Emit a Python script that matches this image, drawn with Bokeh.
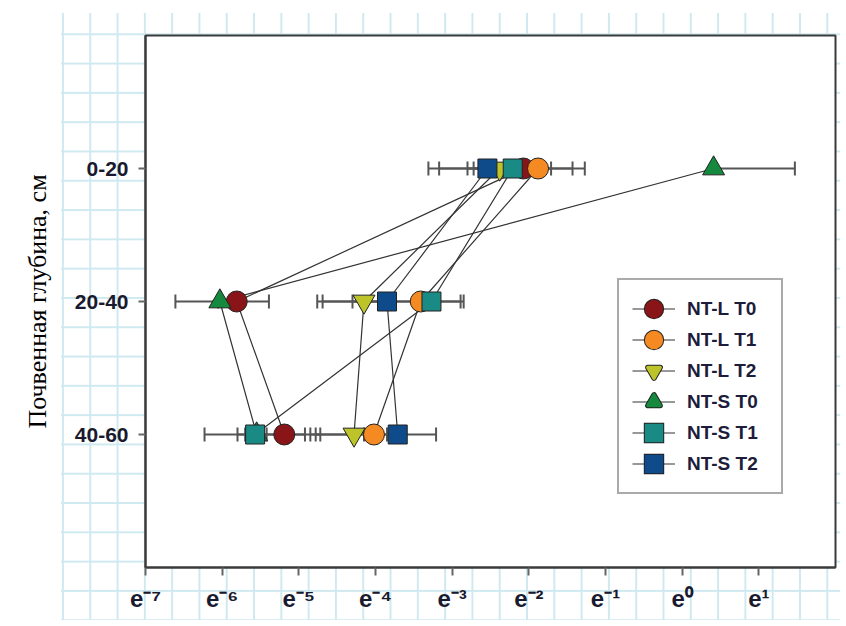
import math
from bokeh.plotting import figure
from bokeh.models import Legend, LegendItem, FixedTicker, ColumnDataSource, Title
from bokeh.embed import file_html
from bokeh.resources import INLINE

nan = float("nan")

# Depth categories (rows) and their positions
depth_labels = ["0-20", "20-40", "40-60"]
depth_pos = [1, 2, 3]

# X tick exponents (axis shows e^k)
x_exponents = [-7, -6, -5, -4, -3, -2, -1, 0, 1]

series_names = ["NT-L T0", "NT-L T1", "NT-L T2", "NT-S T0", "NT-S T1", "NT-S T2"]

# Values as natural-log (exponent of e); lo/hi = error bar ends
nt_l_t0 = [-2.07, -5.81, -5.19]
nt_l_t0_lo = [-3.17, -6.05, -5.80]
nt_l_t0_hi = [-1.27, -5.39, -4.72]

nt_l_t1 = [-1.88, -3.41, -4.02]
nt_l_t1_lo = [-2.72, -4.30, -4.78]
nt_l_t1_hi = [-1.43, -3.20, -3.85]

nt_l_t2 = [-2.38, -4.15, -4.28]
nt_l_t2_lo = [-2.80, -4.76, -4.85]
nt_l_t2_hi = [-2.10, -3.95, -4.15]

nt_s_t0 = [0.41, -6.03, -5.55]
nt_s_t0_lo = [nan, -6.61, -5.70]
nt_s_t0_hi = [1.47, -5.75, -5.42]

nt_s_t1 = [-2.21, -3.27, -5.57]
nt_s_t1_lo = [-2.60, -3.50, -6.23]
nt_s_t1_hi = [-1.71, -2.85, -4.92]

nt_s_t2 = [-2.54, -3.85, -3.71]
nt_s_t2_lo = [-3.31, -4.69, -4.05]
nt_s_t2_hi = [-2.20, -2.89, -3.21]

vals = [nt_l_t0, nt_l_t1, nt_l_t2, nt_s_t0, nt_s_t1, nt_s_t2]
los = [nt_l_t0_lo, nt_l_t1_lo, nt_l_t2_lo, nt_s_t0_lo, nt_s_t1_lo, nt_s_t2_lo]
his = [nt_l_t0_hi, nt_l_t1_hi, nt_l_t2_hi, nt_s_t0_hi, nt_s_t1_hi, nt_s_t2_hi]

colors = ["#8a1518", "#f58a22", "#bcc42a", "#15893d", "#1a8a85", "#0f4a8a"]
markers = ["circle", "circle", "inverted_triangle", "triangle", "square", "square"]
sizes = [21, 21, 22, 22, 19, 19]

SUP = {"-": "\u207b", "0": "\u2070", "1": "\u00b9", "2": "\u00b2", "3": "\u00b3",
       "4": "\u2074", "5": "\u2075", "6": "\u2076", "7": "\u2077", "8": "\u2078", "9": "\u2079"}

def sup(k):
    return "".join(SUP[c] for c in str(k))

grid_c = "#cfe9f1"
p = figure(width=840, height=620, output_backend="svg", toolbar_location=None,
           x_range=(-7, 2), y_range=(4, 0),
           min_border_left=145, min_border_right=5, min_border_top=35, min_border_bottom=53,
           background_fill_color="white", border_fill_color=None)
p.styles = {
    "background-image": (
        "linear-gradient(to right, white 0px, white 61px, transparent 61px),"
        "linear-gradient(to bottom, white 0px, white 13px, transparent 13px),"
        f"linear-gradient(to right, {grid_c} 0px, {grid_c} 2px, transparent 2px),"
        f"linear-gradient(to bottom, {grid_c} 0px, {grid_c} 2px, transparent 2px)"
    ),
    "background-size": "100% 100%, 100% 100%, 27.3px 29.3px, 27.3px 29.3px",
    "background-repeat": "no-repeat, no-repeat, repeat, repeat",
    "background-position": "0 0, 0 0, 7.4px 0px, 0px 4px",
}

p.xgrid.visible = False
p.ygrid.visible = False
p.outline_line_color = "#3a3a3a"
p.outline_line_width = 2

xa = p.xaxis[0]
xa.ticker = FixedTicker(ticks=x_exponents)
xa.major_label_overrides = {k: "e" + sup(k) for k in x_exponents}
xa.minor_tick_line_color = None
xa.axis_line_color = "#3a3a3a"
xa.axis_line_width = 2
xa.major_tick_line_color = "#666666"
xa.major_tick_line_width = 2
xa.major_tick_out = 8
xa.major_tick_in = 0
xa.major_label_standoff = 9
xa.major_label_text_font = "Liberation Sans"
xa.major_label_text_font_style = "bold"
xa.major_label_text_font_size = "24px"
xa.major_label_text_color = "#1a1a2e"

ya = p.yaxis[0]
ya.ticker = FixedTicker(ticks=depth_pos)
ya.major_label_overrides = {k: lab for k, lab in zip(depth_pos, depth_labels)}
ya.minor_tick_line_color = None
ya.axis_line_color = "#3a3a3a"
ya.axis_line_width = 2
ya.major_tick_line_color = "#666666"
ya.major_tick_line_width = 2
ya.major_tick_out = 7
ya.major_tick_in = 0
ya.major_label_standoff = 10
ya.major_label_text_font = "Liberation Sans"
ya.major_label_text_font_style = "bold"
ya.major_label_text_font_size = "21px"
ya.major_label_text_color = "#1a1a2e"

line_rs = []
for v in vals:
    r = p.line(x=v, y=depth_pos, line_color="#333333", line_width=1.2)
    line_rs.append(r)

for v, lo, hi in zip(vals, los, his):
    src = ColumnDataSource(dict(v=v, lo=lo, hi=hi, y=depth_pos))
    p.segment(x0="v", y0="y", x1="lo", y1="y", source=src, line_color="#555555", line_width=2)
    p.segment(x0="v", y0="y", x1="hi", y1="y", source=src, line_color="#555555", line_width=2)
    p.scatter(x="lo", y="y", source=src, marker="dash", angle=math.pi / 2, size=14,
              line_color="#555555", line_width=2)
    p.scatter(x="hi", y="y", source=src, marker="dash", angle=math.pi / 2, size=14,
              line_color="#555555", line_width=2)

items = []
for name, v, c, m, s, lr in zip(series_names, vals, colors, markers, sizes, line_rs):
    p.scatter(x=v, y=depth_pos, marker=m, size=s, fill_color=c,
              line_color="#222222", line_width=1)
    # legend-only swatches (no visible points) so the legend markers are full size
    tri = "triangle" in m
    ring = p.scatter(x=[nan], y=[nan], marker=m, size=s, fill_color="#222222",
                     line_color="#222222", line_width=5.4 if tri else 8,
                     line_join="round" if tri else "miter")
    face = p.scatter(x=[nan], y=[nan], marker=m, size=s, fill_color=c,
                     line_color=c, line_width=3.4 if tri else 6,
                     line_join="round" if tri else "miter")
    items.append(LegendItem(label=name, renderers=[lr, ring, face]))

legend = Legend(items=items, location=(472, 73), padding=13, spacing=0,
                glyph_width=43, glyph_height=31, label_standoff=12, label_width=81,
                label_text_font="Liberation Sans", label_text_font_style="bold",
                label_text_font_size="19px", label_text_color="#1d1d3b",
                border_line_color="#555555", border_line_width=2,
                background_fill_color="white", background_fill_alpha=1)
p.add_layout(legend)

ytitle = Title(text="Почвенная глубина, см", align="center", offset=44, standoff=39,
               vertical_align="bottom",
               text_font="Liberation Serif", text_font_size="26px",
               text_font_style="normal", text_color="black")
p.add_layout(ytitle, "left")

open("out.html", "w").write(file_html(p, INLINE))
